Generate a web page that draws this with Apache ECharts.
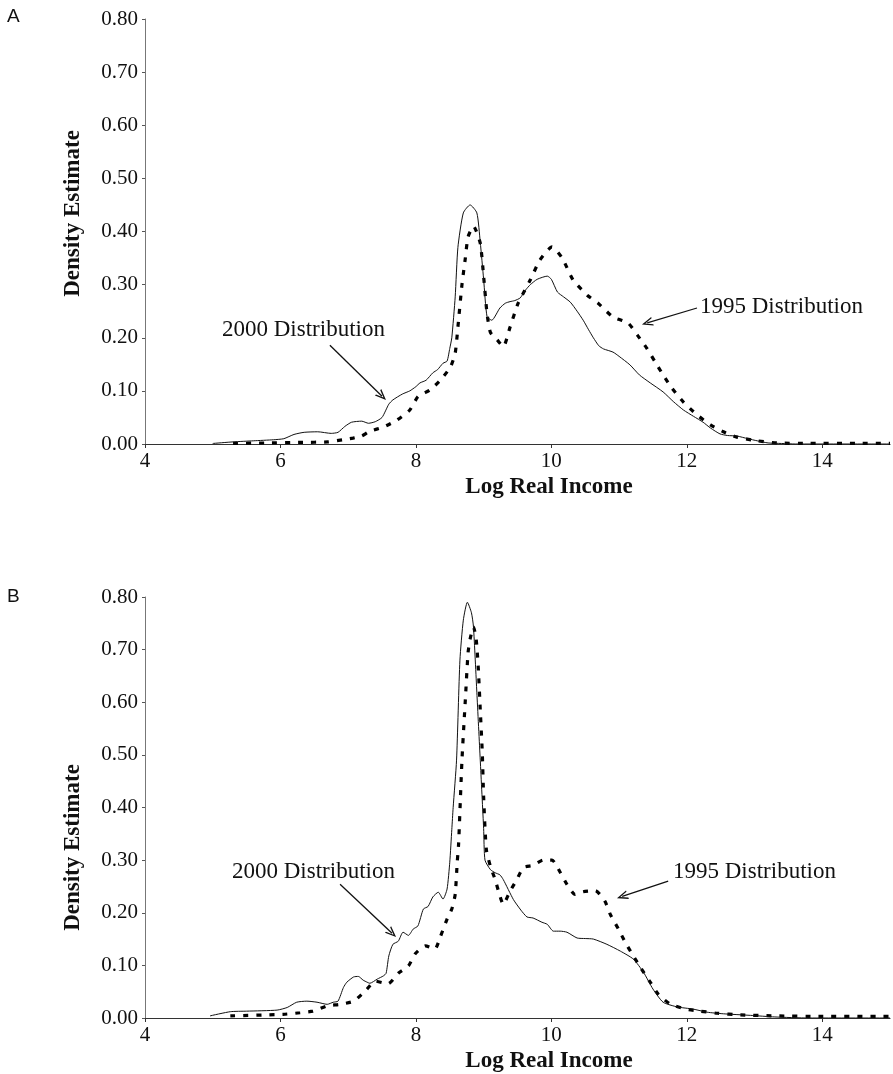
<!DOCTYPE html>
<html>
<head>
<meta charset="utf-8">
<script src="https://cdn.jsdelivr.net/npm/echarts@6/dist/echarts.min.js"></script>
<style>
html,body{margin:0;padding:0;background:#fff;}
#chart{width:893px;height:1074px;}
</style>
</head>
<body>
<div id="chart"></div>
<script>
// ---------- DATA ----------
const xTicks = [4, 6, 8, 10, 12, 14];
const yTicks = [0, 0.1, 0.2, 0.3, 0.4, 0.5, 0.6, 0.7, 0.8];

// Panel A – 2000 distribution (solid)
const incomeA2000 = [5.0,5.3,5.6,5.9,6.05,6.2,6.35,6.55,6.75,6.85,6.95,7.05,7.2,7.3,7.4,7.5,7.6,7.66,7.8,7.91,8.0,8.06,8.15,8.25,8.32,8.4,8.46,8.5,8.53,8.58,8.62,8.7,8.8,8.9,8.95,9.0,9.05,9.12,9.24,9.32,9.39,9.46,9.54,9.62,9.69,9.79,9.94,10.0,10.09,10.18,10.28,10.38,10.47,10.55,10.62,10.7,10.77,10.91,11.0,11.16,11.3,11.46,11.65,11.8,11.95,12.1,12.24,12.35,12.49,12.6,12.74,12.9,13.04,13.2,13.4,13.6,15.0];
const densityA2000 = [0.001,0.004,0.006,0.008,0.01,0.018,0.022,0.023,0.02,0.022,0.033,0.041,0.043,0.039,0.042,0.05,0.075,0.083,0.094,0.1,0.108,0.115,0.12,0.134,0.14,0.152,0.156,0.18,0.2,0.277,0.37,0.435,0.45,0.435,0.38,0.31,0.24,0.233,0.256,0.265,0.268,0.27,0.275,0.29,0.3,0.31,0.316,0.31,0.286,0.277,0.267,0.25,0.233,0.215,0.2,0.185,0.179,0.173,0.165,0.149,0.13,0.115,0.098,0.08,0.064,0.052,0.041,0.03,0.019,0.016,0.015,0.01,0.006,0.002,0.001,0,0];

// Panel A – 1995 distribution (dashed)
const incomeA1995 = [5.3,5.8,6.3,6.7,6.92,7.07,7.2,7.32,7.52,7.72,7.91,8.03,8.21,8.36,8.51,8.58,8.62,8.68,8.73,8.77,8.85,8.95,9.0,9.05,9.1,9.2,9.29,9.39,9.51,9.69,9.83,10.01,10.16,10.32,10.53,10.69,10.91,11.13,11.27,11.41,11.53,11.65,11.78,11.95,12.15,12.35,12.54,12.74,13.04,13.33,13.8,14.5,15.0];
const densityA1995 = [0.001,0.002,0.003,0.004,0.008,0.011,0.015,0.024,0.032,0.045,0.064,0.089,0.102,0.12,0.145,0.171,0.22,0.3,0.35,0.39,0.41,0.378,0.315,0.246,0.21,0.196,0.183,0.22,0.265,0.309,0.346,0.371,0.35,0.309,0.28,0.265,0.239,0.228,0.205,0.18,0.155,0.13,0.105,0.079,0.055,0.036,0.023,0.013,0.006,0.002,0.001,0.001,0.001];

// Panel B – 2000 distribution (solid)
const incomeB2000 = [4.96,5.26,5.5,5.95,6.1,6.24,6.39,6.54,6.69,6.78,6.85,6.93,6.98,7.08,7.15,7.22,7.28,7.32,7.43,7.52,7.56,7.6,7.66,7.74,7.81,7.89,7.96,8.03,8.11,8.18,8.25,8.33,8.4,8.46,8.5,8.53,8.55,8.6,8.65,8.7,8.76,8.82,8.85,8.9,8.95,9.0,9.02,9.1,9.17,9.24,9.29,9.44,9.55,9.64,9.73,9.86,9.94,10.03,10.13,10.23,10.38,10.5,10.62,10.82,11.02,11.21,11.36,11.5,11.65,11.86,12.09,12.3,12.54,12.94,13.3,13.8,15.0];
const densityB2000 = [0.004,0.012,0.013,0.015,0.02,0.03,0.032,0.03,0.026,0.03,0.032,0.058,0.068,0.078,0.079,0.072,0.068,0.066,0.074,0.08,0.085,0.118,0.14,0.146,0.163,0.157,0.169,0.175,0.207,0.212,0.23,0.239,0.226,0.245,0.296,0.358,0.4,0.49,0.68,0.756,0.79,0.77,0.743,0.618,0.49,0.36,0.3,0.282,0.276,0.272,0.263,0.225,0.205,0.192,0.19,0.182,0.178,0.165,0.165,0.163,0.152,0.151,0.15,0.14,0.127,0.112,0.087,0.055,0.03,0.021,0.017,0.011,0.008,0.005,0.002,0,0];

// Panel B – 1995 distribution (dashed)
const incomeB1995 = [5.26,6.04,6.29,6.48,6.69,6.88,7.08,7.25,7.4,7.59,7.74,7.89,7.99,8.14,8.28,8.36,8.46,8.53,8.58,8.61,8.63,8.68,8.73,8.77,8.8,8.85,8.89,8.92,8.95,8.98,9.0,9.04,9.1,9.17,9.24,9.29,9.39,9.49,9.59,9.73,9.88,10.01,10.13,10.23,10.35,10.47,10.65,10.79,10.87,10.99,11.09,11.21,11.31,11.46,11.58,11.75,11.98,12.2,12.45,12.79,13.3,14.0,15.0];
const densityB1995 = [0.004,0.007,0.01,0.013,0.023,0.026,0.032,0.051,0.07,0.065,0.085,0.099,0.122,0.137,0.131,0.154,0.188,0.207,0.235,0.296,0.33,0.49,0.605,0.694,0.72,0.743,0.72,0.667,0.586,0.504,0.42,0.32,0.288,0.263,0.232,0.216,0.241,0.263,0.286,0.29,0.3,0.3,0.277,0.254,0.235,0.24,0.242,0.222,0.197,0.169,0.144,0.118,0.097,0.068,0.045,0.027,0.017,0.013,0.009,0.006,0.004,0.003,0.003];

// Annotation arrows in data coordinates: [start, end]
const arrowsA = [[[6.73, 0.186], [7.50, 0.090]], [[12.15, 0.256], [11.415, 0.228]]];
const arrowsB = [[[6.88, 0.254], [7.648, 0.161]], [[11.725, 0.26], [11.046, 0.231]]];

// ---------- CHART ----------
const zip = (xs, ys) => xs.map((x, i) => [x, ys[i]]);
const SERIF = '"Liberation Serif", "Times New Roman", serif';
const chevron = 'path://M5,0 L10,10 L8.4,10 L5,3.2 L1.6,10 L0,10 Z';

function xAxisCfg(gi) {
  return {
    type: 'value', gridIndex: gi, min: 4, max: 15, interval: 2,
    axisLine: { show: true, onZero: false, lineStyle: { color: '#333', width: 1.2 } },
    axisTick: { show: true, length: 4, lineStyle: { color: '#333' } },
    axisLabel: { fontFamily: SERIF, fontSize: 21, color: '#111', margin: 7, showMaxLabel: false,
      formatter: v => (xTicks.indexOf(v) >= 0 ? String(v) : '') },
    splitLine: { show: false },
    name: 'Log Real Income', nameLocation: 'middle', nameGap: 32,
    nameTextStyle: { fontFamily: SERIF, fontWeight: 'bold', fontSize: 23, color: '#111', padding: [0, 0, 0, 63] }
  };
}
function yAxisCfg(gi, shiftUp) {
  return {
    type: 'value', gridIndex: gi, min: 0, max: 0.8, interval: 0.1,
    axisLine: { show: true, lineStyle: { color: '#777', width: 1 } },
    axisTick: { show: true, length: 3, lineStyle: { color: '#555' } },
    axisLabel: { fontFamily: SERIF, fontSize: 21, color: '#111', margin: 7,
      formatter: v => yTicks.some(t => Math.abs(t - v) < 1e-9) ? v.toFixed(2) : '' },
    splitLine: { show: false },
    name: 'Density Estimate', nameLocation: 'middle', nameRotate: 90, nameGap: 60,
    nameTextStyle: { fontFamily: SERIF, fontWeight: 'bold', fontSize: 23, color: '#111',
      padding: shiftUp >= 0 ? [0, 0, 0, 2 * shiftUp] : [0, -2 * shiftUp, 0, 0] }
  };
}
function solid(gi, data, arrows) {
  return {
    type: 'line', xAxisIndex: gi, yAxisIndex: gi, data, showSymbol: false, smooth: 0.2,
    lineStyle: { color: '#111', width: 1 }, z: 3,
    markLine: {
      silent: true, symbol: ['none', chevron], symbolSize: [9, 11],
      label: { show: false }, lineStyle: { color: '#111', width: 1.3, type: 'solid' },
      itemStyle: { color: '#111' },
      data: arrows.map(a => [{ coord: a[0] }, { coord: a[1] }])
    }
  };
}
function dashed(gi, data) {
  return {
    type: 'line', xAxisIndex: gi, yAxisIndex: gi, data, showSymbol: false, smooth: 0.2,
    lineStyle: { color: '#000', width: 3.2, type: [5, 8], cap: 'butt' }, z: 2
  };
}

const chart = echarts.init(document.getElementById('chart'), null, { renderer: 'canvas' });
chart.setOption({
  animation: false,
  backgroundColor: '#fff',
  grid: [
    { left: 145, right: 3, top: 19, height: 425 },
    { left: 145, right: 3, top: 597, height: 422 }
  ],
  xAxis: [xAxisCfg(0), xAxisCfg(1)],
  yAxis: [yAxisCfg(0, 18), yAxisCfg(1, -40)],
  series: [
    solid(0, zip(incomeA2000, densityA2000), arrowsA),
    dashed(0, zip(incomeA1995, densityA1995)),
    solid(1, zip(incomeB2000, densityB2000), arrowsB),
    dashed(1, zip(incomeB1995, densityB1995))
  ],
  graphic: [
    { type: 'text', left: 7, top: 7, style: { text: 'A', font: '19px "Liberation Sans", Arial, sans-serif', fill: '#111' } },
    { type: 'text', left: 7, top: 587, style: { text: 'B', font: '19px "Liberation Sans", Arial, sans-serif', fill: '#111' } },
    { type: 'text', x: 222, y: 330, style: { text: '2000 Distribution', font: '23px ' + SERIF, fill: '#111', verticalAlign: 'middle' } },
    { type: 'text', x: 700, y: 307, style: { text: '1995 Distribution', font: '23px ' + SERIF, fill: '#111', verticalAlign: 'middle' } },
    { type: 'text', x: 232, y: 872, style: { text: '2000 Distribution', font: '23px ' + SERIF, fill: '#111', verticalAlign: 'middle' } },
    { type: 'text', x: 673, y: 872, style: { text: '1995 Distribution', font: '23px ' + SERIF, fill: '#111', verticalAlign: 'middle' } }
  ]
});
</script>
</body>
</html>
